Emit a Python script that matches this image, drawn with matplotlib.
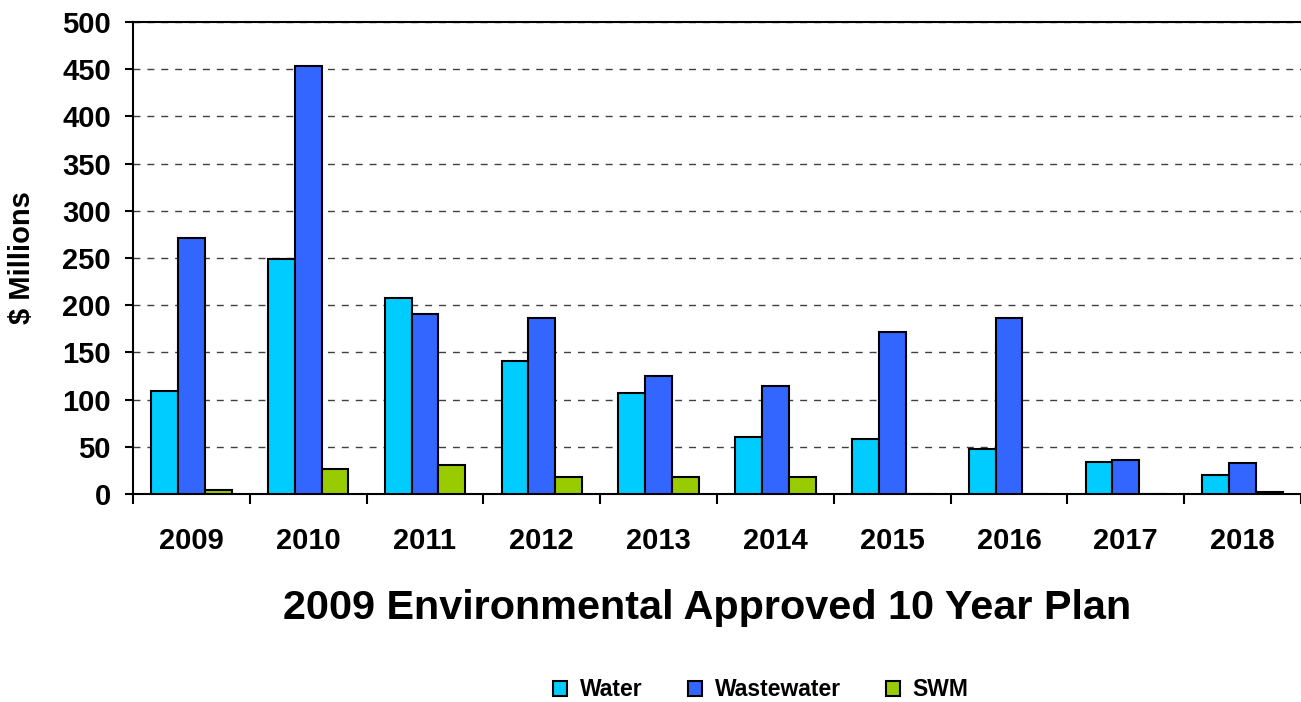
#!/usr/bin/env python3
# -*- coding: utf-8 -*-
"""
2009 Environmental Approved 10 Year Plan - grouped bar chart ($ Millions)
"""

import numpy as np
import matplotlib
matplotlib.use("Agg")
import matplotlib.pyplot as plt

# ----------------- data -----------------
YEARS = ["2009", "2010", "2011", "2012", "2013",
         "2014", "2015", "2016", "2017", "2018"]
WATER = [109, 249, 208, 141, 107, 60, 58, 48, 34, 20]
WASTEWATER = [271, 453, 191, 186, 125, 114, 172, 186, 36, 33]
SWM = [4, 27, 31, 18, 18, 18, 0, 0, 0, 2]

SERIES_NAMES = ["Water", "Wastewater", "SWM"]
COLORS = ["#00CCFF", "#3366FF", "#99CC00"]

YTICKS = [0, 50, 100, 150, 200, 250, 300, 350, 400, 450, 500]

plt.rcParams["font.family"] = ["Liberation Sans", "DejaVu Sans"]
plt.rcParams["font.weight"] = "bold"

# ----------------- figure -----------------
fig = plt.figure(figsize=(13.01, 7.02), dpi=100)
ax = fig.add_axes([133 / 1301, 1 - 494 / 702, 1 - 133 / 1301, (494 - 22) / 702])

x = np.arange(len(YEARS))
w = 0.23
for k, (vals, name, col) in enumerate(zip([WATER, WASTEWATER, SWM], SERIES_NAMES, COLORS)):
    ax.bar(x + (k - 1) * w, vals, width=w, color=col, edgecolor="black",
           linewidth=1.5, label=name, zorder=3)

ax.set_xlim(-0.5, len(YEARS) - 0.5)
ax.set_ylim(0, 500)

# y axis
ax.set_yticks(YTICKS)
ax.set_yticklabels([str(v) for v in YTICKS])
ax.tick_params(axis="y", direction="out", length=6, width=1.5, labelsize=21, pad=10)
ax.yaxis.grid(True, color="#404040", linestyle=(0, (5, 5)), linewidth=1.0, zorder=0)

# x axis: ticks at category boundaries, labels at centres
ax.set_xticks(np.arange(len(YEARS) + 1) - 0.5)
ax.set_xticklabels([])
ax.set_xticks(x, minor=True)
ax.set_xticklabels(YEARS, minor=True)
ax.tick_params(axis="x", which="major", direction="out", length=7, width=1.5)
ax.tick_params(axis="x", which="minor", length=0, labelsize=21, pad=24)

for side in ["left", "bottom", "top"]:
    ax.spines[side].set_linewidth(1.5)
ax.spines["right"].set_visible(False)

fig.text(22 / 1301, 1 - 258 / 702, "$ Millions", rotation=90,
         ha="center", va="center", fontsize=21, fontweight="bold")

fig.text(707 / 1301, 1 - 608 / 702, "2009 Environmental Approved 10 Year Plan",
         ha="center", va="center", fontsize=29.8, fontweight="bold")

leg = fig.legend(loc="center", bbox_to_anchor=(761 / 1301, 1 - 690 / 702),
                 ncol=3, frameon=False, fontsize=16.5,
                 handlelength=0.6, handleheight=0.6, handletextpad=0.55,
                 columnspacing=2.0)
for t in leg.get_texts():
    t.set_fontweight("bold")

fig.savefig("out.png", dpi=100)
